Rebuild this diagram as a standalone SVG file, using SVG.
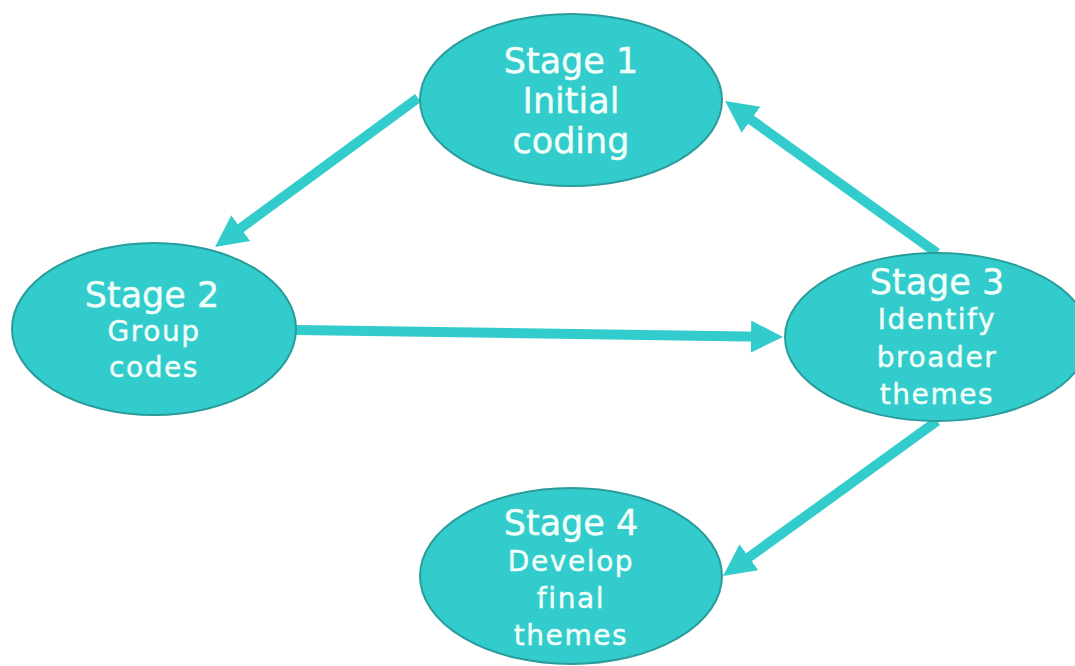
<svg xmlns="http://www.w3.org/2000/svg" width="1075" height="666" viewBox="0 0 1075 666">
<style>
.node ellipse{fill:#33CCCC;stroke:#2A9C9C;stroke-width:2}
.t{font-family:"DejaVu Sans",Verdana,sans-serif;fill:#F2FFFA;stroke:#F2FFFA;stroke-width:0.4;text-anchor:middle}
.big{font-size:35px}
.small{font-size:28px;letter-spacing:1.6px}
.conn line{stroke:#33CCCC;stroke-width:10;fill:none;marker-end:url(#ah)}
</style>
<defs>
<marker id="ah" markerUnits="userSpaceOnUse" markerWidth="34" markerHeight="34" refX="12" refY="16" orient="auto" viewBox="0 0 34 34">
<path d="M0,0 L32,16 L0,32 z" fill="#33CCCC"/>
</marker>
</defs>
<rect width="1075" height="666" fill="#FFFFFF"/>
<g id="connectors" class="conn">
<line x1="418" y1="98" x2="231.1" y2="235.2"/>
<line x1="937" y1="253" x2="741.3" y2="112.7"/>
<line x1="296" y1="330" x2="763" y2="336.7"/>
<line x1="937" y1="421" x2="739.2" y2="564.3"/>
</g>
<g id="stage1" class="node">
<ellipse cx="571" cy="100" rx="151" ry="86"/>
<text class="t big" x="571" y="73">Stage 1</text>
<text class="t big" x="571" y="113">Initial</text>
<text class="t big" x="571" y="153">coding</text>
</g>
<g id="stage2" class="node">
<ellipse cx="154" cy="329" rx="142" ry="86"/>
<text class="t big" x="152" y="307">Stage 2</text>
<text class="t small" x="154" y="341">Group</text>
<text class="t small" x="154" y="377">codes</text>
</g>
<g id="stage3" class="node">
<ellipse cx="937" cy="337" rx="152" ry="84"/>
<text class="t big" x="937" y="294">Stage 3</text>
<text class="t small" x="937" y="329">Identify</text>
<text class="t small" x="937" y="367">broader</text>
<text class="t small" x="937" y="404">themes</text>
</g>
<g id="stage4" class="node">
<ellipse cx="571" cy="576" rx="151" ry="88"/>
<text class="t big" x="571" y="535">Stage 4</text>
<text class="t small" x="571" y="571">Develop</text>
<text class="t small" x="571" y="608">final</text>
<text class="t small" x="571" y="645">themes</text>
</g>
</svg>
